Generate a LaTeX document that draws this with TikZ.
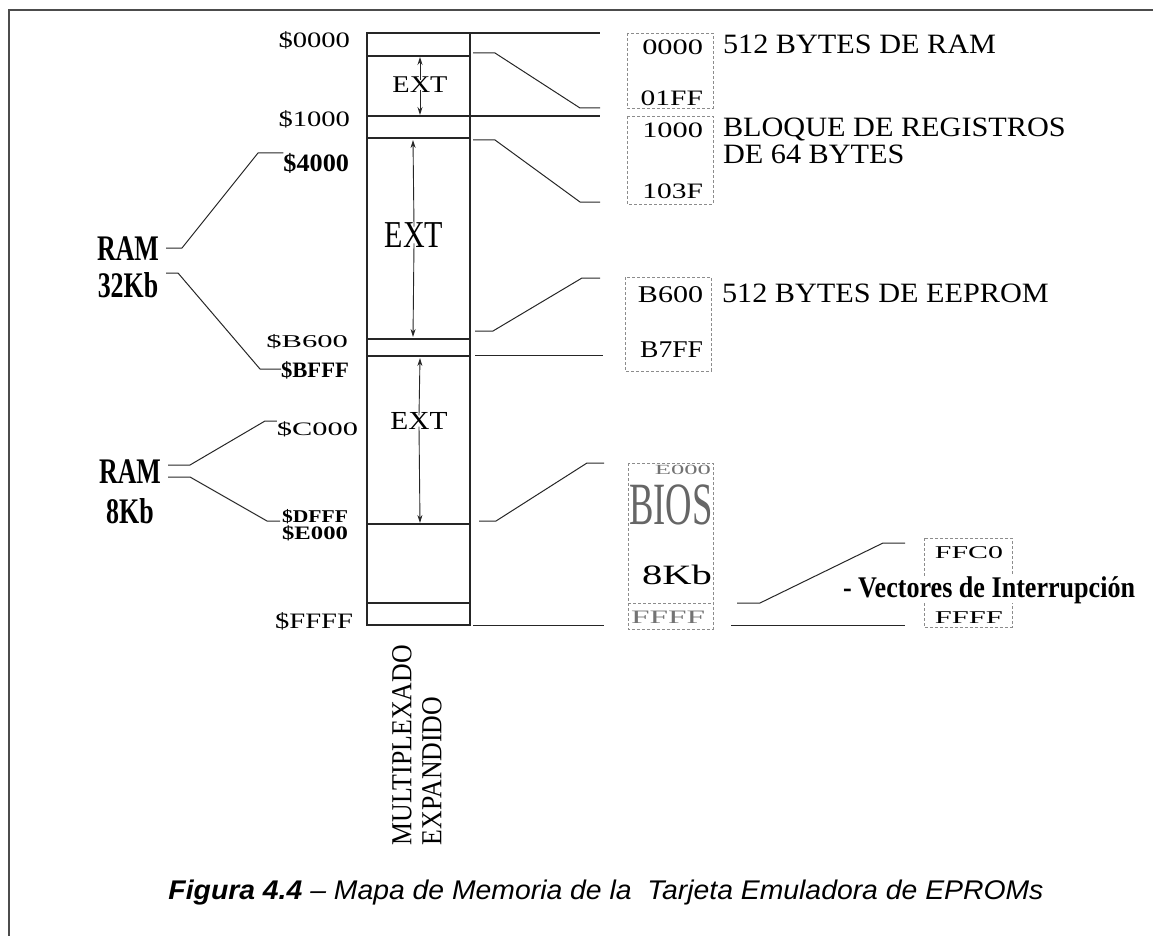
\documentclass[tikz,border=0pt]{standalone}
\usepackage{fontspec}
\usepackage{graphicx}
\setmainfont{Liberation Serif}
\newfontfamily\sansf{Liberation Sans}
\usetikzlibrary{arrows.meta}
\newcommand{\sx}[2]{\scalebox{#1}[1]{#2}}
\newcommand{\fsz}[1]{\fontsize{#1}{#1}\selectfont}
\begin{document}
\begin{tikzpicture}[x=1pt,y=-1pt,
  every node/.style={inner sep=0pt,outer sep=0pt},
  colline/.style={line width=1.1pt,black!85},
  lead/.style={line width=1pt,black!85},
  dbox/.style={draw=black!45,dash pattern=on 3pt off 2pt,line width=0.7pt},
  extarrow/.style={-{Stealth[length=8pt,width=5pt]},line width=0.9pt,black!85},
  lbl/.style={anchor=base east},
  grey/.style={text=black!55}]
\useasboundingbox (0,0) rectangle (1153,936);
% frame
\draw[line width=2pt,black!70] (9,936) -- (9,10) -- (1153,10);

% ---- memory column ----
\draw[colline] (367,33) rectangle (470,625);
\foreach \yy in {56,138,339,356,524,603} \draw[colline] (367,\yy) -- (470,\yy);
\draw[colline] (470,33) -- (600,33);
\draw[colline] (367,116) -- (600,116);

% EXT arrows
\node (e1) at (420,85) {\fsz{24}\sx{1.18}{EXT}};
\coordinate (e1t) at (420,57); \coordinate (e1b) at (420,115);
\draw[extarrow] ([yshift=-3pt]e1.north) -- (e1t);
\draw[extarrow] ([yshift=3pt]e1.south) -- (e1b);
\node (e2) at (414,235) {\fsz{38}\sx{0.79}{EXT}};
\coordinate (e2t) at (413,140); \coordinate (e2b) at (413,337);
\draw[extarrow] ([yshift=-4pt]e2.north) -- (e2t);
\draw[extarrow] ([yshift=4pt]e2.south) -- (e2b);
\node (e3) at (419,421) {\fsz{26}\sx{1.13}{EXT}};
\coordinate (e3t) at (420,358); \coordinate (e3b) at (420,523);
\draw[extarrow] ([yshift=-3pt]e3.north) -- (e3t);
\draw[extarrow] ([yshift=3pt]e3.south) -- (e3b);

% vertical labels
\node[rotate=90,anchor=west] (mux) at (402,845) {\fsz{29}\sx{0.89}{MULTIPLEXADO}};
\node[rotate=90,anchor=west] (expd) at (432,845) {\fsz{29}\sx{0.89}{EXPANDIDO}};

% ---- left address labels ----
\node[lbl] (a0) at (350,48) {\fsz{22}\sx{1.3}{\$0000}};
\node[lbl] (a1) at (350,127) {\fsz{22}\sx{1.3}{\$1000}};
\node[lbl] (a4) at (349,172) {\fsz{25}\bfseries\sx{1.05}{\$4000}};
\node[lbl] (ab6) at (348,347) {\fsz{18}\sx{1.7}{\$B600}};
\node[lbl] (abf) at (349,377) {\fsz{22}\bfseries\sx{1.03}{\$BFFF}};
\node[lbl] (ac) at (358,435) {\fsz{19}\sx{1.6}{\$C000}};
\node[lbl] (adf) at (348,522) {\fsz{18}\bfseries\sx{1.2}{\$DFFF}};
\node[lbl] (ae) at (348,539) {\fsz{19}\bfseries\sx{1.3}{\$E000}};
\node[lbl] (aff) at (353,628) {\fsz{22}\sx{1.3}{\$FFFF}};

% RAM labels
\node[anchor=base] (ram1) at (128,260) {\fsz{36}\bfseries\sx{0.72}{RAM}};
\node[anchor=base] (kb1) at (128,297) {\fsz{36}\bfseries\sx{0.72}{32Kb}};
\node[anchor=base] (ram2) at (130,483) {\fsz{36}\bfseries\sx{0.72}{RAM}};
\node[anchor=base] (kb2) at (130,523) {\fsz{36}\bfseries\sx{0.72}{8Kb}};

\draw[lead] (166,248) -- (182,248) -- (258,153) -- (a4.west |- 0,153);
\draw[lead] (166,273) -- (178,273) -- (260,369) -- (abf.west |- 0,369);
\draw[lead] (168,465) -- (190,465) -- (265,421) -- (ac.west |- 0,421);
\draw[lead] (168,477) -- (190,477) -- (267,521) -- (280,521);

% ---- right leaders ----
\draw[lead] (473,53) -- (495,53) -- (580,108) -- (600,108);
\draw[lead] (473,140) -- (495,140) -- (580,202) -- (600,202);
\draw[lead] (475,331) -- (493,331) -- (582,278) -- (600,278);
\draw[lead] (475,355) -- (603,355);
\draw[lead] (479,521) -- (496,521) -- (587,463) -- (604,463);
\draw[lead] (473,625) -- (604,625);
\draw[lead] (737,603) -- (760,603) -- (883,543) -- (905,543);
\draw[lead] (731,625) -- (905,625);

% ---- dashed boxes ----
\draw[dbox] (627,33) rectangle (713,108);
\draw[dbox] (627,116) rectangle (713,204);
\draw[dbox] (625,277) rectangle (711,371);
\draw[dbox] (628,463) rectangle (713,629);
\draw[dbox] (628,603) -- (713,603);
\draw[dbox] (924,538) rectangle (1012,627);

% box texts
\node[lbl] (r0) at (703,55) {\fsz{22}\sx{1.38}{0000}};
\node[lbl] (r1) at (703,106) {\fsz{22}\sx{1.34}{01FF}};
\node[lbl] (r2) at (703,138) {\fsz{22}\sx{1.38}{1000}};
\node[lbl] (r3) at (703,198) {\fsz{22}\sx{1.34}{103F}};
\node[lbl] (r4) at (703,302) {\fsz{24}\sx{1.25}{B600}};
\node[lbl] (r5) at (703,357) {\fsz{24}\sx{1.15}{B7FF}};
\node[lbl,grey] (r6) at (711,474) {\fsz{14}\sx{1.9}{E000}};
\node[anchor=base,text=black!60] (bios) at (671,524) {\fsz{60}\sx{0.61}{BIOS}};
\node[lbl] (r7) at (712,584) {\fsz{28}\sx{1.45}{8Kb}};
\node[lbl,grey] (r8) at (705,623) {\fsz{19}\sx{1.75}{FFFF}};
\node[lbl] (r9) at (1003,558) {\fsz{18}\sx{1.66}{FFC0}};
\node[lbl] (r10) at (1003,623) {\fsz{18}\sx{1.7}{FFFF}};

% descriptions
\node[anchor=base west] (d1) at (723,54) {\fsz{28}\sx{1.08}{512 BYTES DE RAM}};
\node[anchor=base west] (d2) at (723,137) {\fsz{28}\sx{1.08}{BLOQUE DE REGISTROS}};
\node[anchor=base west] (d3) at (723,164) {\fsz{28}\sx{1.08}{DE 64 BYTES}};
\node[anchor=base west] (d4) at (722,302) {\fsz{28}\sx{1.08}{512 BYTES DE EEPROM}};
\node[anchor=base west,fill=white] (d5) at (843,597) {\fsz{30}\bfseries\sx{0.87}{- Vectores de Interrupción}};

% caption
\node[anchor=base] (cap) at (606,899) {\sansf\fsz{27}\itshape\sx{1.05}{\textbf{Figura 4.4} – Mapa de Memoria de la\ \ Tarjeta Emuladora de EPROMs}};
\end{tikzpicture}
\end{document}
